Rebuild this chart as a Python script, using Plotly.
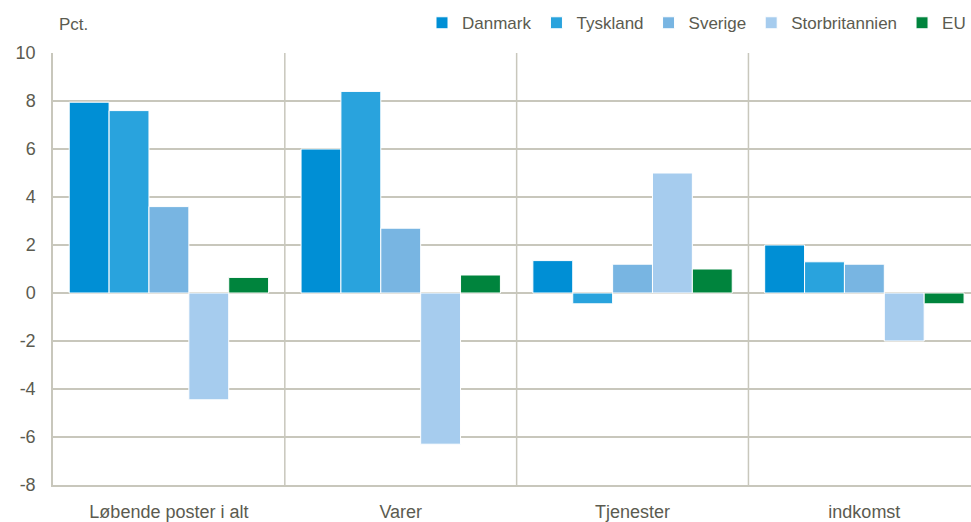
import plotly.graph_objects as go

categories = ["Løbende poster i alt", "Varer", "Tjenester", "indkomst"]
series_names = ["Danmark", "Tyskland", "Sverige", "Storbritannien", "EU"]
danmark = [7.95, 6.0, 1.35, 2.0]
tyskland = [7.6, 8.4, -0.45, 1.3]
sverige = [3.6, 2.7, 1.2, 1.2]
storbritannien = [-4.45, -6.3, 5.0, -2.0]
eu = [0.65, 0.75, 1.0, -0.45]
colors = ["#008FD5", "#29A3DD", "#78B5E2", "#A6CCEE", "#00843D"]
y_ticks = [-8, -6, -4, -2, 0, 2, 4, 6, 8, 10]

font_family = "Liberation Sans, Arial, sans-serif"
text_color = "#5B5B50"
grid_color = "#C8C7BC"

fig = go.Figure()
for name, vals, col in zip(series_names, [danmark, tyskland, sverige, storbritannien, eu], colors):
    fig.add_trace(go.Bar(
        x=list(range(len(categories))), y=vals, name=name,
        marker=dict(color=col, line=dict(color="white", width=1)),
    ))

shapes = []
for xv in [0.5, 1.5, 2.5]:
    shapes.append(dict(type="line", xref="x", yref="paper", x0=xv, x1=xv, y0=0, y1=1,
                       line=dict(color=grid_color, width=1.5), layer="below"))

fig.update_layout(
    width=971, height=522,
    margin=dict(l=53, r=0, t=53, b=34),
    plot_bgcolor="white", paper_bgcolor="white",
    barmode="group", bargap=0.14, bargroupgap=0,
    font=dict(family=font_family, size=17, color=text_color),
    shapes=shapes,
    legend=dict(orientation="h", x=1.0, xanchor="right", y=0.99, yanchor="top",
                yref="container", xref="container", font=dict(size=17, color=text_color),
                itemclick=False, traceorder="normal", itemwidth=30),
    annotations=[dict(text="Pct.", xref="paper", yref="paper", x=0.004, y=1.04,
                      xanchor="left", yanchor="bottom", showarrow=False,
                      font=dict(size=17, color=text_color))],
)
fig.update_xaxes(
    tickvals=list(range(len(categories))), ticktext=categories,
    range=[-0.5, 3.46], showgrid=False, showline=True, linecolor=grid_color, linewidth=1.5,
    mirror=False, ticks="", zeroline=False, fixedrange=True,
    tickfont=dict(size=18), ticklabelstandoff=10,
)
fig.update_yaxes(
    range=[-8, 10], tickvals=y_ticks, ticktext=[str(v) for v in y_ticks],
    showgrid=True, gridcolor=grid_color, gridwidth=1.5,
    zeroline=True, zerolinecolor=grid_color, zerolinewidth=1.5,
    showline=True, linecolor=grid_color, linewidth=1.5, ticks="", ticklabelstandoff=12,
    tickfont=dict(size=18), fixedrange=True,
)

fig.write_html(
    "out.html",
    config={"displayModeBar": False},
    post_script="document.body.style.margin='0';document.body.style.overflow='hidden';",
)
